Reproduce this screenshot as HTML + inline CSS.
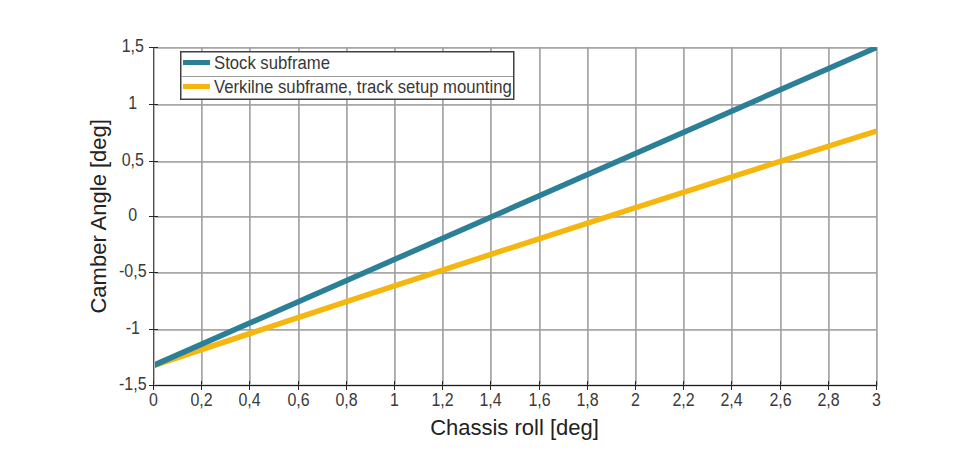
<!DOCTYPE html>
<html><head><meta charset="utf-8"><style>
html,body{margin:0;padding:0;background:#fff;}
body{width:967px;height:461px;overflow:hidden;position:relative;}
svg{position:absolute;left:0;top:0;}
text{font-family:"Liberation Sans",sans-serif;}
.tl{font-size:17px;fill:#3a3a3a;}
.at{font-size:22px;fill:#222;}
.lg{font-size:16.7px;fill:#383838;}
</style></head><body>
<svg width="967" height="461" viewBox="0 0 967 461">
<rect x="201.1" y="47" width="1.6" height="339" fill="#9f9f9f"/>
<rect x="249.1" y="47" width="1.6" height="339" fill="#9f9f9f"/>
<rect x="298.1" y="47" width="1.6" height="339" fill="#9f9f9f"/>
<rect x="346.1" y="47" width="1.6" height="339" fill="#9f9f9f"/>
<rect x="394.1" y="47" width="1.6" height="339" fill="#9f9f9f"/>
<rect x="442.1" y="47" width="1.6" height="339" fill="#9f9f9f"/>
<rect x="490.1" y="47" width="1.6" height="339" fill="#9f9f9f"/>
<rect x="539.1" y="47" width="1.6" height="339" fill="#9f9f9f"/>
<rect x="587.1" y="47" width="1.6" height="339" fill="#9f9f9f"/>
<rect x="635.1" y="47" width="1.6" height="339" fill="#9f9f9f"/>
<rect x="683.1" y="47" width="1.6" height="339" fill="#9f9f9f"/>
<rect x="731.1" y="47" width="1.6" height="339" fill="#9f9f9f"/>
<rect x="780.1" y="47" width="1.6" height="339" fill="#9f9f9f"/>
<rect x="828.1" y="47" width="1.6" height="339" fill="#9f9f9f"/>
<rect x="876.1" y="47" width="1.6" height="339" fill="#9f9f9f"/>
<rect x="154" y="47.1" width="723" height="1.6" fill="#9f9f9f"/>
<rect x="154" y="104.1" width="723" height="1.6" fill="#9f9f9f"/>
<rect x="154" y="161.1" width="723" height="1.6" fill="#9f9f9f"/>
<rect x="154" y="216.1" width="723" height="1.6" fill="#9f9f9f"/>
<rect x="154" y="272.1" width="723" height="1.6" fill="#9f9f9f"/>
<rect x="154" y="329.1" width="723" height="1.6" fill="#9f9f9f"/>
<defs><clipPath id="cp"><rect x="153" y="47" width="724" height="339"/></clipPath></defs>
<g clip-path="url(#cp)" stroke-linecap="butt">
<path d="M153.5 365.6 Q515 244.8 876.5 131" fill="none" stroke="#f5b70f" stroke-width="5.5"/>
<line x1="153.5" y1="365.4" x2="876.5" y2="47.5" stroke="#2b7f97" stroke-width="5.5"/>
</g>
<rect x="154" y="47" width="1" height="339" fill="#b8b8b8"/>
<rect x="153" y="47" width="1" height="339" fill="#4e4e4e"/>
<rect x="153" y="384" width="724" height="3" fill="#dadada"/>
<rect x="153" y="385" width="724" height="1" fill="#1c1c1c"/>
<rect x="153" y="381" width="1" height="9" fill="#262626"/>
<rect x="201" y="381" width="1" height="9" fill="#262626"/>
<rect x="249" y="381" width="1" height="9" fill="#262626"/>
<rect x="298" y="381" width="1" height="9" fill="#262626"/>
<rect x="346" y="381" width="1" height="9" fill="#262626"/>
<rect x="394" y="381" width="1" height="9" fill="#262626"/>
<rect x="442" y="381" width="1" height="9" fill="#262626"/>
<rect x="490" y="381" width="1" height="9" fill="#262626"/>
<rect x="539" y="381" width="1" height="9" fill="#262626"/>
<rect x="587" y="381" width="1" height="9" fill="#262626"/>
<rect x="635" y="381" width="1" height="9" fill="#262626"/>
<rect x="683" y="381" width="1" height="9" fill="#262626"/>
<rect x="731" y="381" width="1" height="9" fill="#262626"/>
<rect x="780" y="381" width="1" height="9" fill="#262626"/>
<rect x="828" y="381" width="1" height="9" fill="#262626"/>
<rect x="876" y="381" width="1" height="9" fill="#262626"/>
<rect x="149" y="47" width="9" height="1" fill="#262626"/>
<rect x="149" y="104" width="9" height="1" fill="#262626"/>
<rect x="149" y="161" width="9" height="1" fill="#262626"/>
<rect x="149" y="216" width="9" height="1" fill="#262626"/>
<rect x="149" y="272" width="9" height="1" fill="#262626"/>
<rect x="149" y="329" width="9" height="1" fill="#262626"/>
<rect x="149" y="385" width="9" height="1" fill="#262626"/>
<text transform="translate(132.8 52) scale(0.94 1.06)" text-anchor="middle" class="tl">1,5</text>
<text transform="translate(132.8 109) scale(0.94 1.06)" text-anchor="middle" class="tl">1</text>
<text transform="translate(132.8 166) scale(0.94 1.06)" text-anchor="middle" class="tl">0,5</text>
<text transform="translate(132.8 221) scale(0.94 1.06)" text-anchor="middle" class="tl">0</text>
<text transform="translate(132.8 277) scale(0.94 1.06)" text-anchor="middle" class="tl">-0,5</text>
<text transform="translate(132.8 334) scale(0.94 1.06)" text-anchor="middle" class="tl">-1</text>
<text transform="translate(132.8 390) scale(0.94 1.06)" text-anchor="middle" class="tl">-1,5</text>
<text transform="translate(153.5 405.6) scale(0.94 1.06)" text-anchor="middle" class="tl">0</text>
<text transform="translate(201.5 405.6) scale(0.94 1.06)" text-anchor="middle" class="tl">0,2</text>
<text transform="translate(249.5 405.6) scale(0.94 1.06)" text-anchor="middle" class="tl">0,4</text>
<text transform="translate(298.5 405.6) scale(0.94 1.06)" text-anchor="middle" class="tl">0,6</text>
<text transform="translate(346.5 405.6) scale(0.94 1.06)" text-anchor="middle" class="tl">0,8</text>
<text transform="translate(394.5 405.6) scale(0.94 1.06)" text-anchor="middle" class="tl">1</text>
<text transform="translate(442.5 405.6) scale(0.94 1.06)" text-anchor="middle" class="tl">1,2</text>
<text transform="translate(490.5 405.6) scale(0.94 1.06)" text-anchor="middle" class="tl">1,4</text>
<text transform="translate(539.5 405.6) scale(0.94 1.06)" text-anchor="middle" class="tl">1,6</text>
<text transform="translate(587.5 405.6) scale(0.94 1.06)" text-anchor="middle" class="tl">1,8</text>
<text transform="translate(635.5 405.6) scale(0.94 1.06)" text-anchor="middle" class="tl">2</text>
<text transform="translate(683.5 405.6) scale(0.94 1.06)" text-anchor="middle" class="tl">2,2</text>
<text transform="translate(731.5 405.6) scale(0.94 1.06)" text-anchor="middle" class="tl">2,4</text>
<text transform="translate(780.5 405.6) scale(0.94 1.06)" text-anchor="middle" class="tl">2,6</text>
<text transform="translate(828.5 405.6) scale(0.94 1.06)" text-anchor="middle" class="tl">2,8</text>
<text transform="translate(876.5 405.6) scale(0.94 1.06)" text-anchor="middle" class="tl">3</text>
<text x="514.5" y="434.5" text-anchor="middle" class="at">Chassis roll [deg]</text>
<text transform="translate(105.6 216.3) rotate(-90)" x="0" y="0" text-anchor="middle" class="at">Camber Angle [deg]</text>
<rect x="180.75" y="51.75" width="333" height="47.5" fill="#fff" stroke="#404040" stroke-width="1.5"/>
<rect x="181" y="76" width="332" height="1" fill="#9a9a9a"/>
<rect x="183" y="60" width="27" height="5" fill="#2b7f97"/>
<rect x="183" y="84" width="27" height="5" fill="#f5b70f"/>
<text transform="translate(214 68.8) scale(1.0 1.07)" class="lg">Stock subframe</text>
<text transform="translate(214 92.5) scale(1.0 1.07)" class="lg">Verkilne subframe, track setup mounting</text>
</svg>
</body></html>
